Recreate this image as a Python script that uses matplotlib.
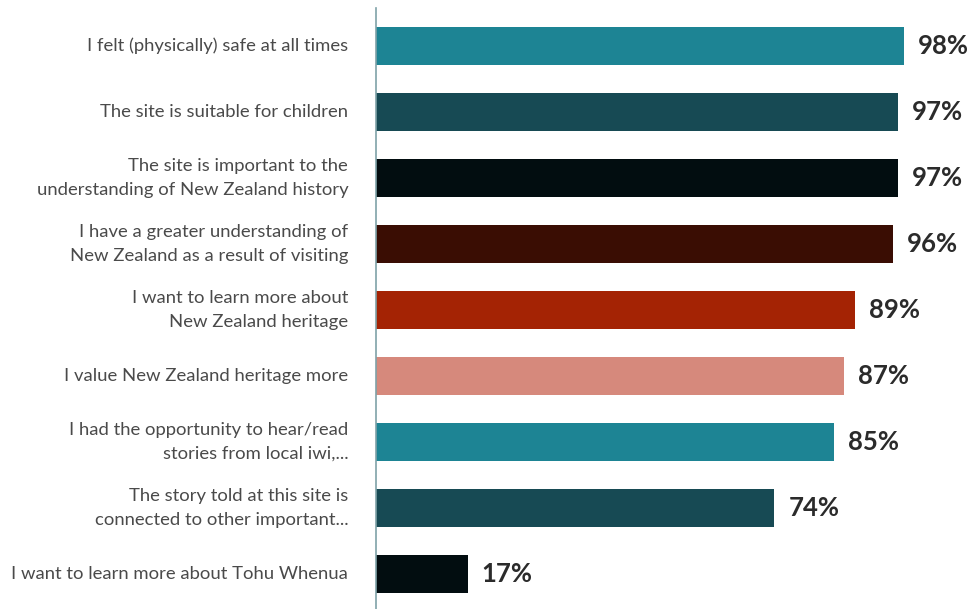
import numpy as np
import matplotlib.pyplot as plt

categories = [
    "I felt (physically) safe at all times",
    "The site is suitable for children",
    "The site is important to the\nunderstanding of New Zealand history",
    "I have a greater understanding of\nNew Zealand as a result of visiting",
    "I want to learn more about\nNew Zealand heritage",
    "I value New Zealand heritage more",
    "I had the opportunity to hear/read\nstories from local iwi,...",
    "The story told at this site is\nconnected to other important...",
    "I want to learn more about Tohu Whenua",
]
values = [98, 97, 97, 96, 89, 87, 85, 74, 17]
colors = ["#1d8494", "#174a54", "#020d10", "#3a0d03", "#a42304",
          "#d6897c", "#1d8494", "#174a54", "#020d10"]

plt.rcParams['font.family'] = ['Lato', 'DejaVu Sans']

fig = plt.figure(figsize=(9.71, 6.09), dpi=100)
ax = fig.add_axes([376 / 971, 0, 1 - 376 / 971, 601 / 609])

y = np.arange(len(values))
ax.barh(y, values, height=0.576, color=colors)

for yi, v in zip(y, values):
    ax.text(v + 2.6, yi, f"{v}%", va='center', ha='left',
            fontsize=18.5, fontweight='bold', color='#2b2b2b')

ax.set_xlim(0, 110.5)
ax.set_ylim(8.53, -0.576)
ax.set_yticks(y)
ax.set_yticklabels(categories, fontsize=13.3, color='#4a4a4a', linespacing=1.55,
                   va='center')
ax.tick_params(axis='y', length=0, pad=20)
ax.set_xticks([])

for side in ['top', 'right', 'bottom']:
    ax.spines[side].set_visible(False)
ax.spines['left'].set_color('#7fa2a8')
ax.spines['left'].set_linewidth(1.2)

fig.savefig('out.png', dpi=100)
